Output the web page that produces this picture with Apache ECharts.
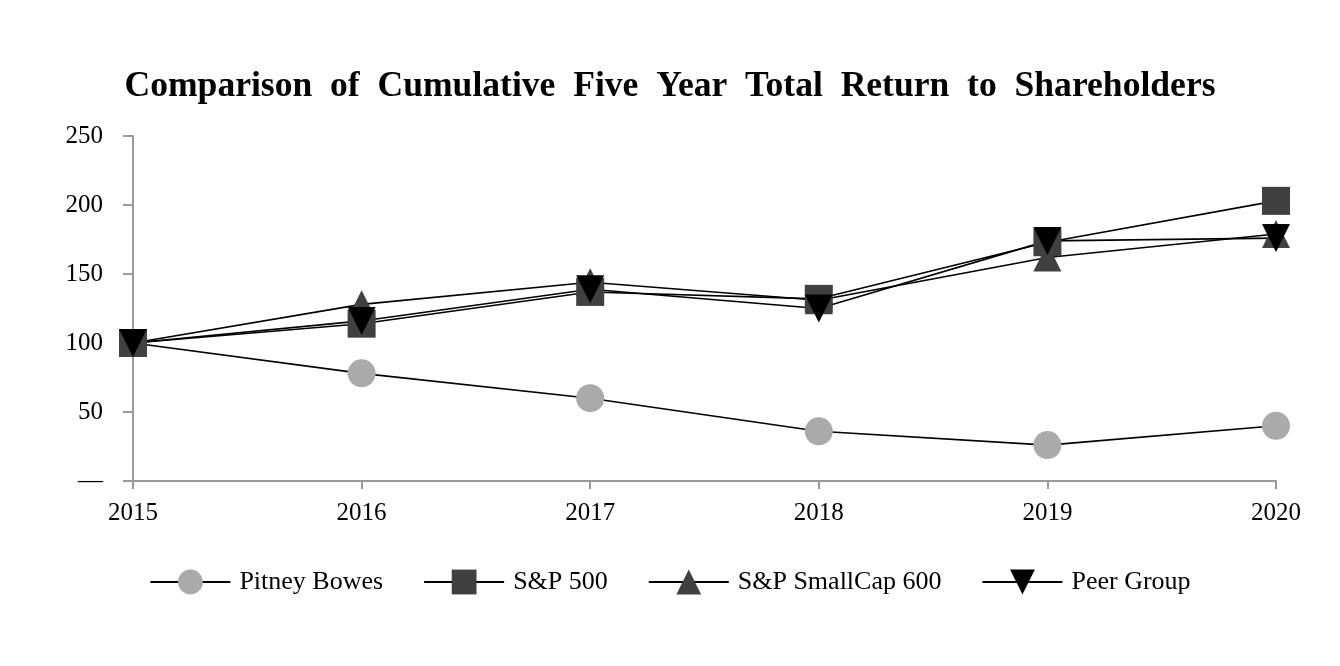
<!DOCTYPE html>
<html><head><meta charset="utf-8">
<script src="https://cdn.jsdelivr.net/npm/echarts@6/dist/echarts.min.js"></script>
<style>html,body{margin:0;padding:0;background:#fff}#c{width:1340px;height:666px}</style>
</head><body><div id="c"></div>
<script>
const years = ['2015','2016','2017','2018','2019','2020'];
const pitneyBowes = [100, 78, 60, 36, 26, 40];
const sp500 = [100, 114, 137, 132, 173, 203];
const spSmallCap600 = [100, 128, 144, 131, 162, 179];
const peerGroup = [100, 116, 139, 125, 174, 176];
const seriesNames = ['Pitney Bowes', 'S&P 500', 'S&P SmallCap 600', 'Peer Group'];
const yTicks = [0, 50, 100, 150, 200, 250];
const titleText = 'Comparison of Cumulative Five Year Total Return to Shareholders';

const font = 'Liberation Serif, Times New Roman, serif';
const chart = echarts.init(document.getElementById('c'), null, {renderer: 'canvas'});
function mk(name, data, symbol, color, size, rot) {
  return {
    name, type: 'line', data, symbol, symbolSize: size, symbolRotate: rot || 0,
    itemStyle: {color}, lineStyle: {color: '#000', width: 1.6},
    emphasis: {disabled: true}, animation: false
  };
}
chart.setOption({
  animation: false,
  title: {
    text: titleText.split(' ').join('  '),
    left: 'center', top: 64,
    textStyle: {fontFamily: font, fontSize: 35.6, fontWeight: 'bold', color: '#000'}
  },
  grid: {left: 133, right: 64, top: 136, bottom: 185},
  legend: {
    bottom: 66, left: 'center', itemWidth: 80, itemHeight: 31, itemGap: 40,
    textStyle: {fontFamily: font, fontSize: 26, color: '#000', padding: [0, 0, 0, 4]},
    data: seriesNames
  },
  xAxis: {
    type: 'category', data: years, boundaryGap: false,
    axisLine: {lineStyle: {color: '#999', width: 2}},
    axisTick: {alignWithLabel: true, length: 8, lineStyle: {color: '#999', width: 2}},
    axisLabel: {fontFamily: font, fontSize: 25, color: '#000', margin: 20}
  },
  yAxis: {
    type: 'value', min: yTicks[0], max: yTicks[yTicks.length - 1], interval: 50,
    axisLine: {show: true, lineStyle: {color: '#999', width: 2}},
    axisTick: {show: true, length: 10, lineStyle: {color: '#999', width: 2}},
    splitLine: {show: false},
    axisLabel: {fontFamily: font, fontSize: 25, color: '#000', margin: 30,
      formatter: v => v === 0 ? '—' : String(v)}
  },
  series: [
    mk(seriesNames[0], pitneyBowes, 'circle', '#aaaaaa', 28),
    mk(seriesNames[1], sp500, 'rect', '#404040', 28),
    mk(seriesNames[2], spSmallCap600, 'triangle', '#404040', 28),
    mk(seriesNames[3], peerGroup, 'triangle', '#000000', 28, 180)
  ]
});
</script></body></html>
